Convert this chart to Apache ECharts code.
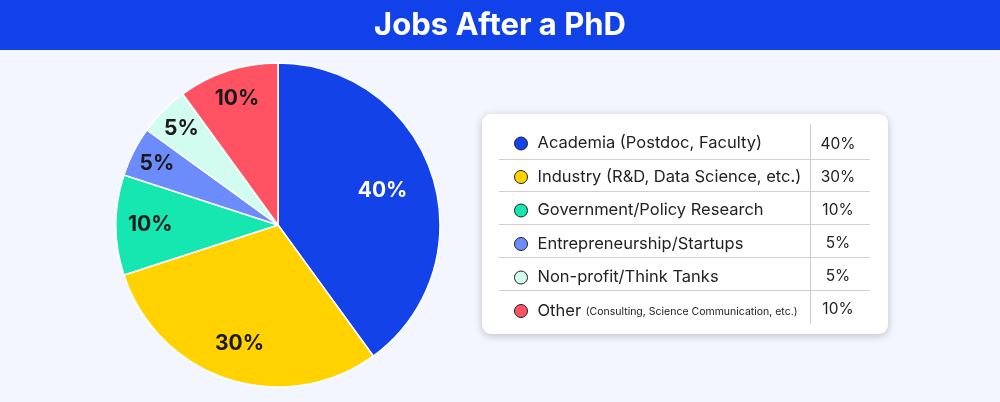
<!DOCTYPE html>
<html><head><meta charset="utf-8">
<script src="https://cdn.jsdelivr.net/npm/echarts@6/dist/echarts.min.js"></script>
<style>html,body{margin:0;padding:0;background:#f3f6fe;}#c{width:1000px;height:402px;}</style>
</head><body><div id="c"></div>
<script>
var categories = ['Academia (Postdoc, Faculty)','Industry (R&D, Data Science, etc.)','Government/Policy Research','Entrepreneurship/Startups','Non-profit/Think Tanks','Other'];
var notes = ['','','','','','(Consulting, Science Communication, etc.)'];
var values = [40,30,10,5,5,10];
var colors = ['#1242e8','#ffd200','#16e6b0','#6d8cfb','#d2fcef','#ff5262'];
var labelColors = ['#ffffff','#1a1a1a','#1a1a1a','#1a1a1a','#1a1a1a','#1a1a1a'];
// style: radial position of each slice label as a fraction of the pie radius
var labelRadiusFrac = [0.66,0.75,0.77,0.82,0.825,0.80];
var FONT = 'Inter';
var CX = 278, CY = 225, R = 162;

var chart = echarts.init(document.getElementById('c'), null, {renderer:'canvas'});
var pieData = categories.map(function(c,i){return {name:c, value:values[i], itemStyle:{color:colors[i]}};});

var graphics = [
  {type:'rect', z:-1, shape:{x:0,y:0,width:1000,height:50}, style:{fill:'#1141e8'}},
  {type:'rect', z:-1, shape:{x:482,y:114,width:406,height:220,r:9}, style:{fill:'#fff', shadowBlur:8, shadowColor:'rgba(0,0,0,0.22)', shadowOffsetY:2}},
  {type:'line', shape:{x1:810.5,y1:124,x2:810.5,y2:324}, style:{stroke:'#c9c9c9', lineWidth:1}}
];
[159.5,191.5,224.5,257.5,290.5].forEach(function(y){
  graphics.push({type:'line', shape:{x1:499,y1:y,x2:870,y2:y}, style:{stroke:'#cfcfcf', lineWidth:1}});
});
values.forEach(function(v,i){
  graphics.push({type:'text', style:{text:v+'%', x:838, y:144+i*33, textAlign:'center', textVerticalAlign:'middle', fontFamily:FONT, fontSize:15.5, fill:'#222'}});
});

var series = [
  {type:'pie', name:'jobs', center:[CX,CY], radius:[0,R], startAngle:90, clockwise:true,
   label:{show:false}, labelLine:{show:false}, data:pieData,
   itemStyle:{borderColor:'#fff', borderWidth:1.5}}
];
// transparent overlay rings, one per slice, that place each slice's label
categories.forEach(function(c,k){
  var r0 = Math.max(0, 2*labelRadiusFrac[k]*R - R);
  series.push({type:'pie', name:'label'+k, center:[CX,CY], radius:[r0,R], startAngle:90, clockwise:true, silent:true,
    itemStyle:{color:'rgba(0,0,0,0)'}, labelLine:{show:false}, emphasis:{disabled:true},
    label:{show:false, position:'inside', formatter:'{c}%', fontFamily:FONT, fontSize:21, fontWeight:'bold'},
    data:categories.map(function(n,i){
      return {name:n, value:values[i], label:{show:i===k, color:labelColors[i]}};
    })
  });
});

var option = {
  backgroundColor:'#f3f6fe',
  animation:false,
  title:{text:'Jobs After a PhD', left:'center', top:5,
    textStyle:{color:'#fff', fontSize:31, fontWeight:'bold', fontFamily:FONT}},
  graphic:graphics,
  legend:{
    orient:'vertical', left:509, top:130, itemWidth:13, itemHeight:13, itemGap:16.5,
    icon:'circle', data:categories, selectedMode:false,
    itemStyle:{borderColor:'#222', borderWidth:1},
    formatter:function(name){
      var i = categories.indexOf(name);
      return notes[i] ? '{n|'+name+' }{s|'+notes[i]+'}' : '{n|'+name+'}';
    },
    textStyle:{
      fontFamily:FONT, fontSize:16.5, color:'#222',
      rich:{
        n:{fontFamily:FONT, fontSize:16.5, color:'#222', lineHeight:20, padding:[0,0,0,5]},
        s:{fontFamily:FONT, fontSize:10.5, color:'#222', lineHeight:20, verticalAlign:'middle', padding:[2,0,0,0]}
      }
    }
  },
  series:series
};
chart.setOption(option);
</script></body></html>
